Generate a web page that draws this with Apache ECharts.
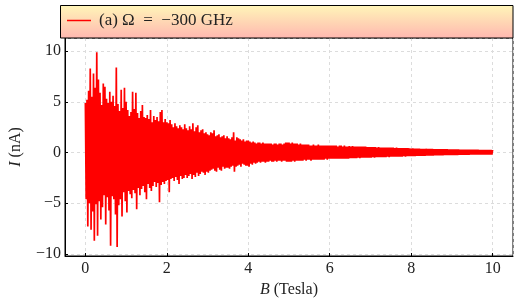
<!DOCTYPE html>
<html>
<head>
<meta charset="utf-8">
<script src="https://cdn.jsdelivr.net/npm/echarts@6/dist/echarts.min.js"></script>
<style>
html,body{margin:0;padding:0;background:#fff;}
#c{width:518px;height:303px;}
</style>
</head>
<body>
<div id="c"></div>
<script>
// Sampling grid of the magnetic field (Tesla)
const B_START = 0;
const B_STEP = 0.02;
// Current I (nA), one value per B sample
const currentNA = [
 4.9,-4.6,5.2,-7.3,6.1,-5.0,8.3,-7.6,5.5,-5.8,7.8,-8.7,6.4,-5.1,9.9,-8.2,7.2,-4.8,5.9,-6.6,4.7,-5.4,6.8,-4.2,6.5,
 -7.1,5.3,-4.4,4.9,-5.7,6.0,-9.2,5.0,-4.3,5.6,-4.6,4.6,-6.1,8.4,-9.3,4.8,-5.2,4.1,-4.6,6.2,-6.3,4.4,-3.9,6.4,-4.8,
 5.0,-5.9,4.2,-3.8,3.6,-4.1,4.0,-4.5,6.0,-3.7,4.3,-4.0,5.9,-5.6,3.9,-3.5,3.4,-4.2,4.1,-3.6,4.7,-3.3,3.5,-3.9,3.4,
 -4.6,3.7,-3.1,3.3,-3.5,4.2,-3.8,3.0,-3.3,3.6,-2.9,3.2,-3.4,3.5,-3.0,3.1,-4.9,4.0,-3.2,4.2,-2.9,3.0,-3.1,3.3,-2.8,
 3.0,-2.7,2.9,-3.9,3.2,-2.6,2.8,-2.5,2.5,-2.8,2.9,-2.4,2.6,-2.7,2.4,-3.1,2.7,-2.3,2.5,-2.6,2.3,-2.5,2.8,-2.2,2.4,
 -2.5,2.2,-2.3,2.6,-2.1,2.3,-2.6,2.9,-2.2,2.1,-2.4,2.5,-2.0,2.7,-2.3,2.0,-2.1,2.2,-1.9,2.3,-2.0,1.9,-2.2,2.0,-1.9,
 1.8,-2.0,1.7,-1.8,2.0,-1.7,1.9,-1.6,2.2,-1.8,1.6,-1.9,1.7,-1.5,1.8,-1.7,1.5,-1.8,1.6,-1.4,1.7,-1.6,1.4,-1.5,1.6,
 -1.5,1.4,-1.6,1.3,-1.4,1.5,-1.3,2.0,-1.9,1.2,-1.4,1.5,-1.3,1.4,-1.2,1.3,-1.4,1.2,-1.1,1.3,-1.2,1.1,-1.3,1.2,-1.3,
 1.2,-1.4,1.1,-1.1,1.0,-1.2,1.1,-1.0,1.0,-1.1,0.9,-1.0,1.0,-0.9,1.0,-1.0,0.9,-0.9,1.0,-0.9,0.9,-1.0,0.9,-0.9,0.9,
 -0.9,0.9,-0.8,0.9,-0.9,0.8,-0.9,0.9,-0.8,0.9,-0.9,0.8,-0.8,0.9,-0.8,0.9,-0.9,0.8,-0.8,0.9,-0.8,1.0,-0.9,1.0,-0.9,
 1.0,-0.9,0.9,-0.9,1.0,-0.8,0.9,-0.9,0.9,-0.8,0.9,-0.8,0.8,-0.8,0.9,-0.8,0.8,-0.8,0.8,-0.7,0.8,-0.8,0.8,-0.7,0.8,
 -0.7,0.7,-0.8,0.7,-0.7,0.8,-0.7,0.7,-0.7,0.7,-0.7,0.8,-0.7,0.7,-0.7,0.7,-0.7,0.7,-0.7,0.7,-0.6,0.7,-0.7,0.7,-0.6,
 0.7,-0.6,0.7,-0.6,0.7,-0.6,0.7,-0.6,0.7,-0.6,0.6,-0.6,0.7,-0.6,0.7,-0.6,0.6,-0.6,0.7,-0.6,0.6,-0.6,0.6,-0.6,0.65,
 -0.55,0.6,-0.55,0.65,-0.55,0.6,-0.55,0.6,-0.55,0.6,-0.5,0.6,-0.55,0.6,-0.5,0.6,-0.5,0.6,-0.5,0.6,-0.5,0.55,-0.5,0.55,-0.5,
 0.55,-0.5,0.55,-0.45,0.55,-0.5,0.55,-0.45,0.5,-0.45,0.55,-0.45,0.5,-0.45,0.5,-0.45,0.5,-0.45,0.5,-0.45,0.5,-0.4,0.5,-0.45,0.5,
 -0.4,0.5,-0.4,0.5,-0.4,0.45,-0.4,0.5,-0.4,0.45,-0.4,0.45,-0.4,0.45,-0.4,0.45,-0.35,0.45,-0.4,0.45,-0.35,0.45,-0.35,0.42,-0.35,
 0.4,-0.35,0.42,-0.35,0.4,-0.35,0.4,-0.33,0.4,-0.33,0.4,-0.33,0.38,-0.33,0.38,-0.32,0.38,-0.32,0.38,-0.3,0.37,-0.3,0.37,-0.3,0.36,
 -0.3,0.36,-0.3,0.35,-0.28,0.35,-0.28,0.35,-0.28,0.34,-0.27,0.34,-0.27,0.34,-0.27,0.33,-0.26,0.33,-0.26,0.33,-0.26,0.32,-0.25,0.32,-0.25,
 0.32,-0.25,0.32,-0.24,0.31,-0.24,0.31,-0.24,0.31,-0.23,0.3,-0.23,0.3,-0.23,0.3,-0.22,0.3,-0.22,0.29,-0.22,0.29,-0.22,0.29,-0.21,0.29,
 -0.21,0.28,-0.21,0.28,-0.21,0.28,-0.2,0.28,-0.2,0.27,-0.2,0.27,-0.2,0.27,-0.2,0.27,-0.19,0.27,-0.19,0.26,-0.19,0.26,-0.19,0.26,-0.19,
 0.26
];
const xTicks = [0, 2, 4, 6, 8, 10];
const yTicks = [-10, -5, 0, 5, 10];
const legendLabel = '(a) \u03A9  =  \u2212300 GHz';
const xName = 'B';
const xUnit = ' (Tesla)';
const yName = 'I';
const yUnit = ' (nA)';

const seriesData = currentNA.map((v, i) => [+(B_START + i * B_STEP).toFixed(4), v]);

const FONT = '"Liberation Serif", "DejaVu Serif", serif';
const GRID = {left: 60.5, right: 5, top: 38, bottom: 46};

const chart = echarts.init(document.getElementById('c'), null, {renderer: 'canvas'});
const fmt = v => String(v).replace('-', '\u2212');

chart.setOption({
  animation: false,
  backgroundColor: '#ffffff',
  grid: Object.assign({show: true, borderColor: '#000', borderWidth: 1, backgroundColor: 'transparent'}, GRID),
  xAxis: {
    type: 'value', min: -0.5, max: 10.5, splitNumber: 5,
    axisLine: {show: true, onZero: false, lineStyle: {color: '#000', width: 1}},
    axisTick: {show: true, inside: true, length: 3, lineStyle: {color: '#000'}},
    axisLabel: {
      fontFamily: FONT, fontSize: 16, color: '#222', margin: 5, showMinLabel: false, showMaxLabel: false,
      formatter: v => xTicks.indexOf(v) >= 0 ? fmt(v) : ''
    },
    splitLine: {show: true, lineStyle: {color: '#dcdcdc', type: [3, 3], width: 1}},
    name: '{i|' + xName + '}{r|' + xUnit + '}', nameLocation: 'middle', nameGap: 26,
    nameTextStyle: {rich: {
      i: {fontFamily: FONT, fontSize: 16, fontStyle: 'italic', color: '#222'},
      r: {fontFamily: FONT, fontSize: 16, color: '#222'}
    }}
  },
  yAxis: {
    type: 'value', min: -10.2, max: 11.3, splitNumber: 5,
    axisLine: {show: true, onZero: false, lineStyle: {color: '#000', width: 1}},
    axisTick: {show: true, inside: true, length: 3, lineStyle: {color: '#000'}},
    axisLabel: {
      fontFamily: FONT, fontSize: 16, color: '#222', margin: 4, showMinLabel: false, showMaxLabel: false,
      formatter: v => yTicks.indexOf(v) >= 0 ? fmt(v) : ''
    },
    splitLine: {show: true, lineStyle: {color: '#dcdcdc', type: [3, 3], width: 1}},
    name: '{i|' + yName + '}{r|' + yUnit + '}', nameLocation: 'middle', nameGap: 41, nameRotate: 90,
    nameTextStyle: {rich: {
      i: {fontFamily: FONT, fontSize: 16, fontStyle: 'italic', color: '#222'},
      r: {fontFamily: FONT, fontSize: 16, color: '#222'}
    }}
  },
  series: [{
    type: 'line', data: seriesData, showSymbol: false, symbol: 'none',
    lineStyle: {color: '#ff0000', width: 1.7, join: 'bevel'}, sampling: null, silent: true, z: 3
  }],
  graphic: [
    {type: 'rect', shape: {x: 60.5, y: 5.5, width: 452.5, height: 32.5}, z: 100,
     style: {fill: new echarts.graphic.LinearGradient(0, 0, 0, 1, [
       {offset: 0, color: '#fff6b8'}, {offset: 1, color: '#ffb7b0'}]), stroke: '#000', lineWidth: 1}},
    {type: 'line', shape: {x1: 67, y1: 20.5, x2: 91, y2: 20.5}, z: 101,
     style: {stroke: '#ff0000', lineWidth: 1.5}},
    {type: 'text', x: 99, y: 21, z: 101,
     style: {text: legendLabel, font: '17px ' + FONT, fill: '#222', verticalAlign: 'middle'}}
  ]
});
</script>
</body>
</html>
